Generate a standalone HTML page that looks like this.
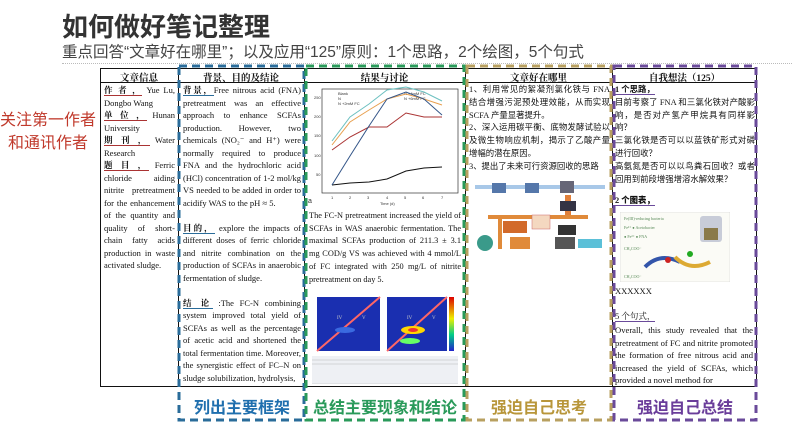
<!DOCTYPE html>
<html><head><meta charset="utf-8"><style>
*{margin:0;padding:0;box-sizing:border-box}
body{width:799px;height:426px;background:#fff;position:relative;overflow:hidden;font-family:"Liberation Sans","Noto Sans CJK SC",sans-serif}
.a{position:absolute}
.t{font-family:"Liberation Serif","Noto Serif CJK SC",serif;font-size:8.5px;line-height:12.5px;color:#111;text-align:justify;overflow:hidden}
.c{font-family:"Liberation Serif","Noto Sans CJK SC",sans-serif;font-size:8.4px;line-height:12.8px;color:#111;text-align:justify;overflow:hidden}
.h{font-family:"Liberation Serif","Noto Serif CJK SC",serif;font-size:9.5px;font-weight:bold;text-align:center;color:#111}
b.u{border-bottom:1.5px solid #a33}
b.ub{border-bottom:1.5px solid #2a6c9a}
b.up{border-bottom:1.5px solid #6a4a9a}
.lab{position:absolute;top:394px;font-size:16px;font-weight:bold;text-align:center;white-space:nowrap;font-family:"Liberation Sans","Noto Sans CJK SC",sans-serif}
</style></head><body>
<div class="a" style="left:62px;top:7px;font-size:26px;font-weight:bold;color:#333;white-space:nowrap">如何做好笔记整理</div>
<div class="a" style="left:62px;top:40px;font-size:15.5px;color:#444;white-space:nowrap">重点回答“文章好在哪里”；以及应用“125”原则：1个思路，2个绘图，5个句式</div>
<div class="a" style="left:62px;top:63px;width:730px;border-top:1px dotted #bbb"></div>
<div class="a" style="left:0;top:109px;width:96px;text-align:center;font-size:16px;line-height:23px;color:#c0392b;white-space:nowrap">关注第一作者<br>和通讯作者</div>

<div class="a" style="left:100px;top:68px;width:657px;height:319px;border:1px solid #111"></div>
<div class="a" style="left:100px;top:82px;width:657px;border-top:1px solid #111"></div>
<div class="a" style="left:178px;top:68px;height:319px;border-left:1px solid #111"></div>
<div class="a" style="left:304px;top:68px;height:319px;border-left:1px solid #111"></div>
<div class="a" style="left:465px;top:68px;height:319px;border-left:1px solid #111"></div>
<div class="a" style="left:612px;top:68px;height:319px;border-left:1px solid #111"></div>

<div class="a h" style="left:100px;top:70px;width:78px">文章信息</div>
<div class="a h" style="left:178px;top:70px;width:126px">背景、目的及结论</div>
<div class="a h" style="left:304px;top:70px;width:161px">结果与讨论</div>
<div class="a h" style="left:465px;top:70px;width:147px">文章好在哪里</div>
<div class="a h" style="left:612px;top:70px;width:145px">自我想法（125）</div>

<div class="a t" style="left:104px;top:84px;width:71px;height:300px"><b class="u">作 者 ，</b> Yue Lu, Dongbo Wang<br><b class="u">单 位 ，</b> Hunan University<br><b class="u">期 刊 ，</b> Water Research<br><b class="u">题 目 ，</b> Ferric chloride aiding nitrite pretreatment for the enhancement of the quantity and quality of short-chain fatty acids production in waste activated sludge.</div>

<div class="a t" style="left:183px;top:84px;width:118px;height:300px"><b class="ub">背景，</b>Free nitrous acid (FNA) pretreatment was an effective approach to enhance SCFAs production. However, two chemicals (NO₂⁻ and H⁺) were normally required to produce FNA and the hydrochloric acid (HCl) concentration of 1-2 mol/kg VS needed to be added in order to acidify WAS to the pH ≈ 5.<br><br><b class="ub">目的，</b> explore the impacts of different doses of ferric chloride and nitrite combination on the production of SCFAs in anaerobic fermentation of sludge.<br><br><b class="ub">结 论</b> :The FC-N combining system improved total yield of SCFAs as well as the percentage of acetic acid and shortened the total fermentation time. Moreover, the synergistic effect of FC–N on sludge solubilization, hydrolysis,</div>

<svg class="a" style="left:308px;top:85px" width="155" height="122" viewBox="0 0 155 122">
<rect x="14" y="4" width="136" height="104" fill="none" stroke="#333" stroke-width="0.7"/>
<g font-size="4" font-family="Liberation Sans" fill="#333">
<text x="6" y="14">250</text><text x="6" y="33">200</text><text x="6" y="52">150</text><text x="6" y="72">100</text><text x="8" y="91">50</text>
<text x="23" y="114">1</text><text x="41" y="114">2</text><text x="59" y="114">3</text><text x="78" y="114">4</text><text x="96" y="114">5</text><text x="114" y="114">6</text><text x="133" y="114">7</text>
<text x="72" y="120">Time (d)</text><text x="0" y="118" font-size="7">a</text>
<text x="30" y="10">Blank</text><text x="30" y="15">N</text><text x="30" y="20">N +2mM FC</text><text x="96" y="10">N +4mM FC</text><text x="96" y="15">N +6mM FC</text>
</g>
<polyline fill="none" stroke="#111" stroke-width="1" points="24,100 42,98 61,97 79,94 98,86 116,83 134,82"/>
<polyline fill="none" stroke="#a33" stroke-width="1" points="24,65 42,52 61,42 79,42 98,28 116,32 134,32"/>
<polyline fill="none" stroke="#e8a050" stroke-width="1" points="24,60 42,37 61,25 79,14 98,9 116,14 134,20"/>
<polyline fill="none" stroke="#6cc0c0" stroke-width="1" points="24,56 42,32 61,19 79,5 98,2 116,7 134,16"/>
<polyline fill="none" stroke="#335588" stroke-width="1" points="24,100 42,71 61,41 79,14 98,7 116,14 134,30"/>
</svg>

<div class="a t" style="left:309px;top:210px;width:152px;font-size:8.3px;line-height:12.7px">The FC-N pretreatment increased the yield of SCFAs in WAS anaerobic fermentation. The maximal SCFAs production of 211.3 ± 3.1 mg COD/g VS was achieved with 4 mmol/L of FC integrated with 250 mg/L of nitrite pretreatment on day 5.</div>

<svg class="a" style="left:310px;top:296px" width="150" height="88" viewBox="0 0 150 88">
<defs><linearGradient id="g" x1="0" y1="0" x2="0" y2="1"><stop offset="0" stop-color="#d00"/><stop offset=".4" stop-color="#ee0"/><stop offset=".7" stop-color="#0c8"/><stop offset="1" stop-color="#22c"/></linearGradient></defs>
<rect x="7" y="1" width="63" height="54" fill="#1a2fb0"/>
<rect x="77" y="1" width="60" height="54" fill="#1a2fb0"/>
<line x1="7" y1="55" x2="70" y2="1" stroke="#ff6666" stroke-width="2"/>
<line x1="77" y1="55" x2="137" y2="1" stroke="#ff6666" stroke-width="2"/>
<ellipse cx="103" cy="34" rx="12" ry="4" fill="#ffd700"/><ellipse cx="103" cy="34" rx="5" ry="2" fill="#e33"/>
<ellipse cx="100" cy="45" rx="10" ry="3" fill="#6f6"/>
<ellipse cx="35" cy="34" rx="10" ry="3" fill="#3a6ae0"/>
<rect x="139" y="1" width="5" height="54" fill="url(#g)"/>
<g fill="#ccc" font-size="5" font-family="Liberation Serif"><text x="27" y="23">IV</text><text x="52" y="23">V</text><text x="97" y="23">IV</text><text x="122" y="23">V</text></g>
<rect x="2" y="60" width="146" height="28" fill="#eef0f4"/>
<g stroke="#aaa" stroke-width="0.4"><line x1="2" y1="64" x2="148" y2="64"/><line x1="2" y1="68" x2="148" y2="68"/><line x1="2" y1="88" x2="148" y2="88"/></g>
</svg>

<div class="a c" style="left:469px;top:84px;width:141px">1、利用常见的絮凝剂氯化铁与 FNA 结合增强污泥预处理效能，从而实现 SCFA 产量显著提升。<br>2、深入运用碳平衡、底物发酵试验以及微生物响应机制，揭示了乙酸产量增幅的潜在原因。<br>3、提出了未来可行资源回收的思路</div>

<svg class="a" style="left:470px;top:175px" width="140" height="80" viewBox="0 0 140 80">
<rect x="5" y="10" width="130" height="4" fill="#a8c8e8"/>
<rect x="22" y="8" width="14" height="10" fill="#5577aa"/><rect x="55" y="8" width="14" height="10" fill="#5577aa"/><rect x="90" y="6" width="14" height="12" fill="#667"/>
<rect x="95" y="20" width="6" height="20" fill="#e07f3a"/>
<rect x="90" y="26" width="16" height="10" fill="#334"/>
<rect x="18" y="40" width="100" height="4" fill="#e08a3a"/>
<rect x="28" y="44" width="4" height="30" fill="#e08a3a"/>
<rect x="33" y="46" width="24" height="12" fill="#d26a2a"/>
<rect x="62" y="40" width="18" height="14" fill="#f4d8c0" stroke="#c66" stroke-width=".5"/>
<rect x="88" y="50" width="18" height="10" fill="#333"/>
<rect x="85" y="62" width="20" height="12" fill="#555"/>
<rect x="108" y="64" width="24" height="9" fill="#5bc0d8"/>
<circle cx="15" cy="68" r="8" fill="#3a9a8a"/>
<rect x="40" y="62" width="20" height="12" fill="#e08a3a"/>
</svg>

<div class="a c" style="left:615px;top:84px;width:140px"><b class="up">1 个思路，</b><br>目前考察了 FNA 和三氯化铁对产酸影响，是否对产氢产甲烷具有同样影响？<br>三氯化铁是否可以以蓝铁矿形式对磷进行回收？<br>高氨氮是否可以以鸟粪石回收？或者回用到前段增强增溶水解效果？</div>
<div class="a c" style="left:615px;top:195px;font-weight:bold"><b class="up">2 个图表，</b></div>
<svg class="a" style="left:620px;top:212px" width="110" height="70" viewBox="0 0 110 70">
<rect x="0" y="0" width="110" height="70" fill="#fbfbf6" stroke="#ccc" stroke-width=".5"/>
<g font-size="4" fill="#558855" font-family="Liberation Serif"><text x="4" y="8">Fe(III)-reducing bacteria</text><text x="4" y="17">Fe²⁺  ● Acetobacter</text><text x="4" y="26">● Fe³⁺ ● FNA</text><text x="4" y="38">CH₃COO⁻</text><text x="4" y="66">CH₃COO⁻</text></g>
<rect x="80" y="4" width="22" height="26" rx="3" fill="#c8ccd8"/><rect x="84" y="16" width="14" height="12" fill="#8a7a4a"/>
<path d="M25 55 Q40 40 60 50" stroke="#35a" stroke-width="4" fill="none"/>
<path d="M55 45 Q70 60 90 50" stroke="#da3" stroke-width="4" fill="none"/>
<circle cx="48" cy="48" r="3" fill="#c22"/><circle cx="70" cy="42" r="3" fill="#2a2"/>
</svg>
<div class="a t" style="left:615px;top:285px">XXXXXX</div>
<div class="a t" style="left:615px;top:310px"><b class="up" style="font-weight:normal">5 个句式，</b></div>
<div class="a t" style="left:615px;top:324px;width:138px;height:62px;font-size:8.6px">Overall, this study revealed that the pretreatment of FC and nitrite promoted the formation of free nitrous acid and increased the yield of SCFAs, which provided a novel method for</div>

<svg class="a" style="left:0;top:0" width="799" height="426">
<g fill="none" stroke-width="3" stroke-dasharray="8,5">
<rect x="179" y="66" width="125" height="354" stroke="#2a6c9a"/>
<rect x="306" y="66" width="158" height="354" stroke="#2a9a5a"/>
<rect x="467" y="66" width="144" height="354" stroke="#b8a060"/>
<rect x="614" y="66" width="142" height="354" stroke="#6a4a9a"/>
</g></svg>

<div class="lab" style="left:179px;width:126px;color:#1f6fae">列出主要框架</div>
<div class="lab" style="left:306px;width:158px;color:#2a9a5a">总结主要现象和结论</div>
<div class="lab" style="left:467px;width:144px;color:#b8963a">强迫自己思考</div>
<div class="lab" style="left:614px;width:142px;color:#6a3d9a">强迫自己总结</div>
</body></html>
